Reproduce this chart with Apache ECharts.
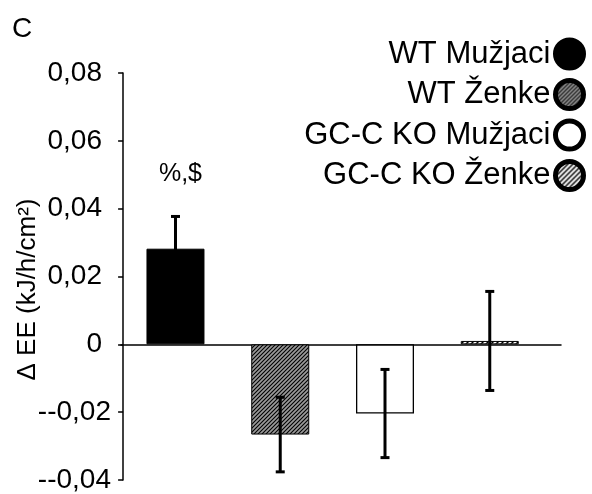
<!DOCTYPE html>
<html>
<head>
<meta charset="utf-8">
<script src="https://cdn.jsdelivr.net/npm/echarts@6/dist/echarts.min.js"></script>
<style>
  html, body { margin: 0; padding: 0; background: #fff; }
  #container { width: 592px; height: 494px; }
</style>
</head>
<body>
<div id="container"></div>
<script>
// groups, mean change and error (SEM)
const groups = ['WT Mužjaci', 'WT Ženke', 'GC-C KO Mužjaci', 'GC-C KO Ženke'];
const means = [0.0282, -0.0266, -0.0204, 0.001];
const errors = [0.0095, 0.011, 0.013, 0.0146];
const yTicks = ['--0,04', '--0,02', '0', '0,02', '0,04', '0,06', '0,08'];
const note = '%,$';

const FONT = '"Liberation Sans", Arial, sans-serif';

// hatch pattern "////" on a background colour
function hatch(bg, line, size, width) {
  const c = document.createElement('canvas');
  c.width = size; c.height = size;
  const ctx = c.getContext('2d');
  ctx.fillStyle = bg;
  ctx.fillRect(0, 0, size, size);
  ctx.strokeStyle = line;
  ctx.lineWidth = width;
  ctx.beginPath();
  ctx.moveTo(0, size); ctx.lineTo(size, 0);
  ctx.moveTo(-1, 1); ctx.lineTo(1, -1);
  ctx.moveTo(size - 1, size + 1); ctx.lineTo(size + 1, size - 1);
  ctx.stroke();
  return { image: c, repeat: 'repeat' };
}

const fills = [
  '#000',
  hatch('#9a9a9a', '#000', 4, 1.1),
  '#fff',
  hatch('#fff', '#000', 5, 1.5)
];

let dom = document.getElementById('container');
let myChart = echarts.init(dom);

let barSeries = groups.map(function (name, i) {
  let item = { value: [i + 0.5, means[i]] };
  if (i === 0) {
    item.label = {
      show: true,
      position: 'top',
      distance: 62,
      offset: [5, 0],
      formatter: note,
      fontFamily: FONT,
      fontSize: 25,
      color: '#000'
    };
  }
  return {
    name: name,
    type: 'bar',
    barWidth: 58,
    barGap: '-100%',
    itemStyle: {
      color: fills[i],
      borderColor: '#000',
      borderWidth: i === 2 ? 1.3 : 1
    },
    data: [item],
    z: 2
  };
});

let option = {
  animation: false,
  grid: { left: 121, right: 31, top: 73, bottom: 14, outerBoundsMode: 'none' },
  legend: {
    orient: 'vertical',
    right: 1,
    top: 32.5,
    align: 'right',
    icon: 'circle',
    itemWidth: 28,
    itemHeight: 28,
    itemGap: 7.5,
    itemStyle: { borderColor: '#000', borderWidth: 5 },
    textStyle: { fontFamily: FONT, fontSize: 31, color: '#000' },
    data: groups
  },
  xAxis: {
    type: 'value',
    min: -0.02,
    max: 4.18,
    axisLine: { show: true, onZero: true, lineStyle: { color: '#000', width: 1.5 } },
    axisTick: { show: false },
    axisLabel: { show: false },
    splitLine: { show: false }
  },
  yAxis: {
    type: 'value',
    min: -0.04,
    max: 0.08,
    interval: 0.02,
    name: 'Δ EE (kJ/h/cm²)',
    nameLocation: 'middle',
    nameRotate: 90,
    nameGap: 80,
    nameMoveOverlap: false,
    nameTextStyle: { fontFamily: FONT, fontSize: 26, color: '#000', padding: [0, 26, 0, 0] },
    axisLine: { show: true, lineStyle: { color: '#000', width: 1.5 } },
    axisTick: { show: true, length: 5, lineStyle: { color: '#000', width: 1.5 } },
    splitLine: { show: false },
    axisLabel: {
      margin: 10,
      fontFamily: FONT,
      fontSize: 28,
      color: '#000',
      formatter: function (v) {
        let idx = Math.round((v + 0.04) / 0.02);
        let s = yTicks[idx];
        return v < 0 ? '{n|' + s + '}' : '{p|' + s + '}';
      },
      rich: {
        p: { fontFamily: FONT, fontSize: 28, color: '#000', padding: [0, 9, 0, 0] },
        n: { fontFamily: FONT, fontSize: 28, color: '#000' }
      }
    }
  },
  graphic: {
    elements: [{
      type: 'text',
      left: 12,
      top: 15,
      style: { text: 'C', font: '28px ' + FONT, fill: '#000' }
    }]
  },
  series: barSeries.concat([{
    type: 'custom',
    name: 'sem',
    z: 5,
    renderItem: function (params, api) {
      let x = api.value(0);
      let lo = api.coord([x, api.value(1) - api.value(2)]);
      let hi = api.coord([x, api.value(1) + api.value(2)]);
      let cap = 4.5;
      let st = { stroke: '#000', lineWidth: 3 };
      return {
        type: 'group',
        children: [
          { type: 'line', shape: { x1: hi[0], y1: hi[1], x2: lo[0], y2: lo[1] }, style: st },
          { type: 'line', shape: { x1: hi[0] - cap, y1: hi[1], x2: hi[0] + cap, y2: hi[1] }, style: st },
          { type: 'line', shape: { x1: lo[0] - cap, y1: lo[1], x2: lo[0] + cap, y2: lo[1] }, style: st }
        ]
      };
    },
    data: means.map(function (m, i) { return [i + 0.5, m, errors[i]]; })
  }])
};

myChart.setOption(option);
</script>
</body>
</html>
